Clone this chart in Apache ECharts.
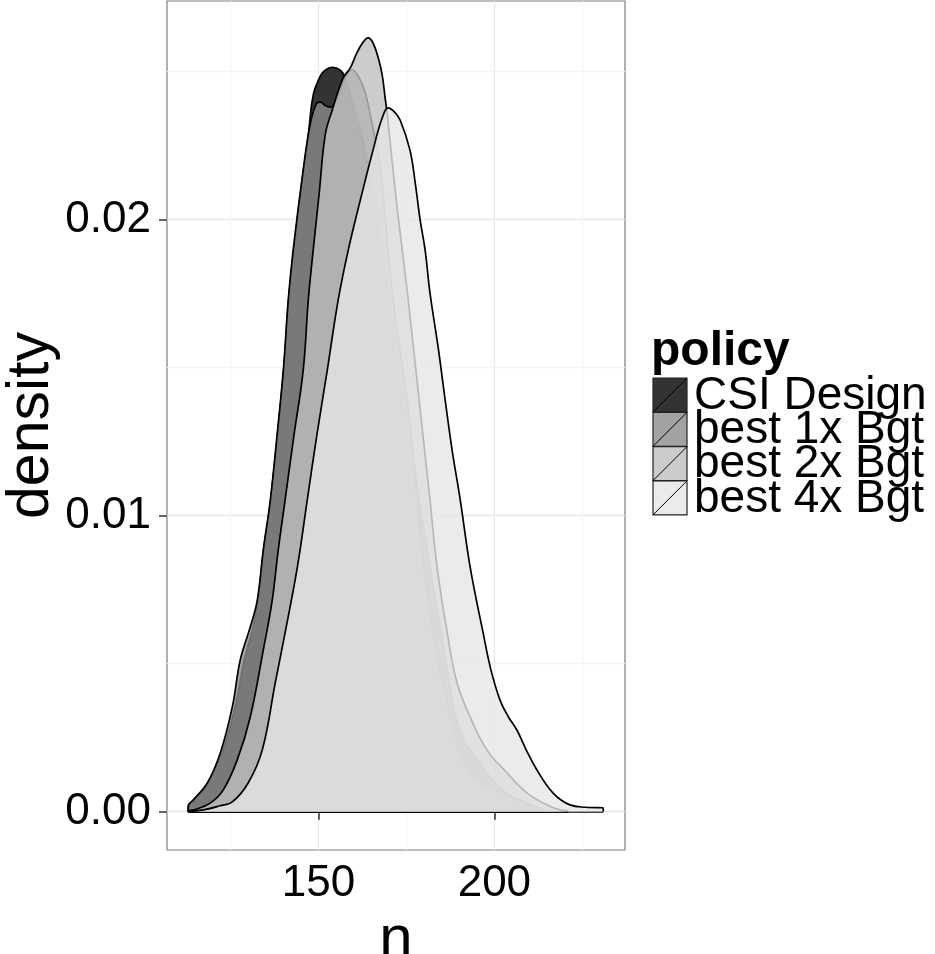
<!DOCTYPE html>
<html>
<head>
<meta charset="utf-8">
<title>Density by policy</title>
<style>
    body { margin: 0; padding: 0; background: #ffffff; }
    #chart { width: 935px; height: 954px; }
</style>
</head>
<body>
<div id="chart"></div>
<script src="https://cdn.jsdelivr.net/npm/echarts@6.0.0/dist/echarts.min.js"></script>
<script>
    // policies, in the order they are drawn (later ones on top)
    const policies = ['CSI Design', 'best 1x Bgt', 'best 2x Bgt', 'best 4x Bgt'];
    const fills = ['#000000', '#8b8b8b', '#bfbfbf', '#e6e6e6'];

    // density estimates: n values and matching densities
    const csiN = [113, 115.0, 118.6, 122.6, 126.3, 128.9, 131.4, 132.8, 134.4, 136.4, 140.1, 141.5, 143.0, 145.0, 147.1, 148.5, 150.5, 151.9, 153.9, 156.2, 157.6, 160, 163, 166, 170, 175, 180, 185, 188, 191, 195, 200, 205, 210, 214];
    const csiDensity = [0.00019, 0.0004, 0.00097, 0.00199, 0.00354, 0.00513, 0.00624, 0.00715, 0.00884, 0.01053, 0.01492, 0.01729, 0.01898, 0.0210, 0.02286, 0.02421, 0.02485, 0.02505, 0.02515, 0.02505, 0.02479, 0.0238, 0.0225, 0.0205, 0.0175, 0.0135, 0.0095, 0.006, 0.0038, 0.0025, 0.0018, 0.0010, 0.0005, 0.0002, 0.00005];

    const best1xN = [113, 114.4, 118.4, 122.1, 125.5, 127.75, 130.6, 132.6, 134.3, 136.3, 138.2, 140.0, 141.4, 142.8, 145.65, 147.6, 149.35, 150.5, 152, 153.5, 155.5, 157.5, 159.6, 161.5, 163.2, 165.3, 167.5, 171.2, 175.2, 177.2, 178.9, 182.6, 188.3, 193.1, 202.5, 212.1, 214];
    const best1xDensity = [0.0002, 0.0004, 0.00097, 0.00199, 0.00354, 0.00513, 0.00624, 0.00715, 0.00884, 0.01053, 0.0127, 0.01492, 0.01729, 0.01898, 0.02168, 0.0232, 0.02391, 0.02397, 0.02385, 0.0238, 0.0242, 0.0248, 0.02506, 0.0248, 0.02432, 0.0232, 0.02178, 0.01729, 0.0139, 0.01165, 0.00942, 0.00604, 0.00286, 0.00131, 0.00063, 0.00016, 0.00005];

    const best2xN = [113, 114.65, 119.2, 122.9, 126.9, 130.6, 134.3, 136.85, 138.55, 140.5, 143, 145.65, 147.1, 148.5, 150.2, 151.9, 153.9, 157.0, 159.0, 161.0, 162.7, 164.1, 165.5, 167.0, 168.1, 168.95, 169.5, 172.1, 173.8, 175.5, 178.6, 181.7, 183.7, 186.6, 189.4, 193.1, 197.9, 203.6, 209.3, 215.0, 218.7, 221];
    const best2xDensity = [0.00003, 0.00006, 0.00029, 0.00073, 0.00175, 0.0032, 0.00546, 0.00715, 0.00884, 0.01053, 0.0127, 0.01492, 0.01729, 0.01898, 0.0209, 0.02286, 0.0237, 0.02479, 0.02512, 0.02566, 0.026, 0.02614, 0.02597, 0.02546, 0.02489, 0.02411, 0.0236, 0.02067, 0.01898, 0.01729, 0.01391, 0.01053, 0.00827, 0.00604, 0.00435, 0.0032, 0.00208, 0.00131, 0.00063, 0.00023, 0.00006, 0.00002];

    const best4xN = [113, 118, 122, 125.5, 130, 134, 137.7, 140.5, 144, 146.8, 149.5, 152.5, 155.6, 158.5, 161.9, 165.5, 168, 169.8, 171.5, 173.2, 176, 177.5, 178.9, 180.3, 181.7, 184, 186, 188, 190.3, 193.1, 196.8, 199, 201.6, 204, 206.4, 209, 212.1, 216.7, 221.5, 226, 230.9];
    const best4xDensity = [0.00002, 0.00008, 0.0002, 0.00033, 0.00097, 0.00208, 0.00435, 0.00604, 0.00827, 0.01053, 0.0127, 0.01492, 0.01729, 0.0190, 0.02067, 0.02235, 0.0234, 0.02378, 0.02365, 0.02337, 0.02235, 0.02124, 0.01999, 0.01898, 0.01752, 0.0157, 0.01391, 0.0122, 0.01053, 0.00827, 0.00604, 0.0048, 0.00377, 0.0032, 0.00276, 0.0021, 0.00141, 0.00063, 0.00023, 0.00015, 0.00013];

    const xMajorTicks = [150, 200];
    const xMinorTicks = [125, 175, 225];
    const yMajorTicks = [0, 0.01, 0.02];
    const yMinorTicks = [0.005, 0.015, 0.025];

    const font = '"Liberation Sans", Arial, Helvetica, sans-serif';
    const alpha = 0.8;

    function withAlpha(hex, a) {
        const v = parseInt(hex.slice(1), 16);
        return 'rgba(' + (v >> 16 & 255) + ',' + (v >> 8 & 255) + ',' + (v & 255) + ',' + a + ')';
    }

    function makeSeries(i, ns, ds) {
        const first = ns[0], last = ns[ns.length - 1];
        // close the polygon at both ends, like the density outline does
        const pts = [[first - 0.05, 0]].concat(ns.map((n, k) => [n, ds[k]]), [[last + 0.05, 0]]);
        return {
            name: policies[i],
            type: 'line',
            data: pts,
            z: 3 + i,
            smooth: 0.4,
            symbol: 'none',
            silent: true,
            lineStyle: { color: '#000', width: 1.7 },
            areaStyle: { color: fills[i], opacity: alpha, origin: 'auto' },
            markLine: {
                silent: true,
                symbol: ['none', 'none'],
                label: { show: false },
                lineStyle: { color: '#000', width: 1.7, type: 'solid' },
                data: [[{ coord: [first, 0] }, { coord: [last, 0] }]]
            }
        };
    }

    const series = [
        makeSeries(0, csiN, csiDensity),
        makeSeries(1, best1xN, best1xDensity),
        makeSeries(2, best2xN, best2xDensity),
        makeSeries(3, best4xN, best4xDensity)
    ];

    // legend drawn by hand: keys with the slash ggplot puts in density keys
    const keyX = 653, keyTop = 378, keySize = 34, keyStep = 34.3;
    const graphics = [{
        type: 'text', x: 651, y: 352,
        style: { text: 'policy', font: 'bold 48px ' + font, fill: '#000', verticalAlign: 'middle', textVerticalAlign: 'middle' }
    }];
    policies.forEach((p, i) => {
        const top = keyTop + i * keyStep;
        graphics.push({
            type: 'rect',
            shape: { x: keyX, y: top, width: keySize, height: keySize },
            style: { fill: withAlpha(fills[i], alpha), stroke: '#222', lineWidth: 1.2 }
        });
        graphics.push({
            type: 'line',
            shape: { x1: keyX, y1: top + keySize, x2: keyX + keySize, y2: top },
            style: { stroke: '#000', lineWidth: 1 }
        });
        graphics.push({
            type: 'text', x: 694, y: top + keySize / 2 + 1,
            style: { text: p, font: '46px ' + font, fill: '#000', verticalAlign: 'middle', textVerticalAlign: 'middle' }
        });
    });

    const xMin = 106.93, xMax = 237.13;
    const yMin = -0.001294, yMax = 0.027389;

    const chart = echarts.init(document.getElementById('chart'));
    chart.setOption({
        animation: false,
        backgroundColor: '#ffffff',
        textStyle: { fontFamily: font },
        grid: {
            left: 167, top: 1, width: 458, height: 849,
            show: true, borderColor: '#7f7f7f', borderWidth: 1.2, backgroundColor: '#ffffff',
            containLabel: false, outerBoundsMode: 'none'
        },
        xAxis: [{
            type: 'value', min: xMin, max: xMax,
            name: 'n', nameLocation: 'middle', nameGap: 41,
            nameTextStyle: { fontSize: 60, color: '#000', fontFamily: font },
            axisLine: { show: false },
            axisTick: { show: true, length: 8, customValues: xMajorTicks, lineStyle: { color: '#333', width: 1.5 } },
            axisLabel: { customValues: xMajorTicks, fontSize: 44, color: '#000', margin: 12, fontFamily: font },
            splitLine: { show: true, lineStyle: { color: '#e8e8e8', width: 1.3 } }
        }, {
            type: 'value', min: xMin, max: xMax, position: 'bottom',
            axisLine: { show: false },
            axisTick: { show: false, customValues: xMinorTicks },
            axisLabel: { show: false, customValues: xMinorTicks },
            splitLine: { show: true, lineStyle: { color: '#f4f4f4', width: 1.3 } }
        }],
        yAxis: [{
            type: 'value', min: yMin, max: yMax,
            name: 'density', nameLocation: 'middle', nameGap: 100, nameRotate: 90,
            nameTextStyle: { fontSize: 59, color: '#000', fontFamily: font },
            axisLine: { show: false },
            axisTick: { show: true, length: 8, customValues: yMajorTicks, lineStyle: { color: '#333', width: 1.5 } },
            axisLabel: {
                customValues: yMajorTicks, fontSize: 44, color: '#000', margin: 16, fontFamily: font,
                formatter: v => v.toFixed(2)
            },
            splitLine: { show: true, lineStyle: { color: '#e8e8e8', width: 1.3 } }
        }, {
            type: 'value', min: yMin, max: yMax, position: 'left',
            axisLine: { show: false },
            axisTick: { show: false, customValues: yMinorTicks },
            axisLabel: { show: false, customValues: yMinorTicks },
            splitLine: { show: true, lineStyle: { color: '#f4f4f4', width: 1.3 } }
        }],
        series: series,
        graphic: graphics
    });
</script>
</body>
</html>
